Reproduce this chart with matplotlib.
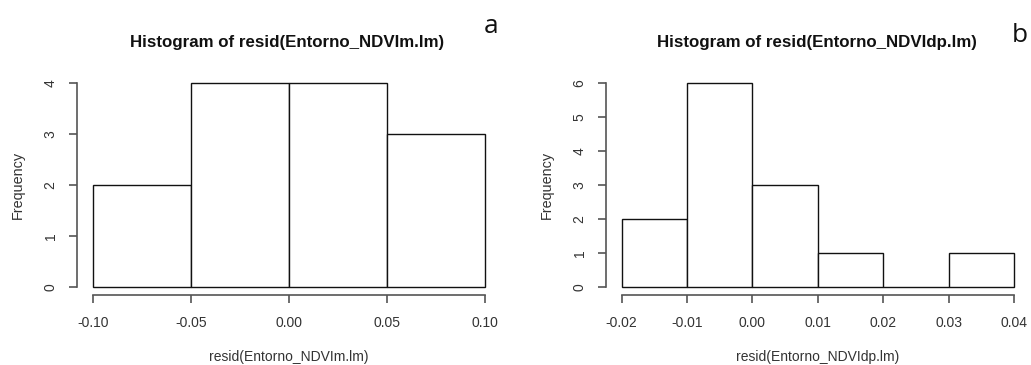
import numpy as np
import matplotlib
matplotlib.use('Agg')
import matplotlib.pyplot as plt

# histogram bins and counts
edges_a = [-0.10, -0.05, 0.00, 0.05, 0.10]
counts_a = [2, 4, 4, 3]
ticks_a = [-0.10, -0.05, 0.00, 0.05, 0.10]
yticks_a = [0, 1, 2, 3, 4]

edges_b = [-0.02, -0.01, 0.00, 0.01, 0.02, 0.03, 0.04]
counts_b = [2, 6, 3, 1, 0, 1]
ticks_b = [-0.02, -0.01, 0.00, 0.01, 0.02, 0.03, 0.04]
yticks_b = [0, 1, 2, 3, 4, 5, 6]

titles = ['Histogram of resid(Entorno_NDVIm.lm)', 'Histogram of resid(Entorno_NDVIdp.lm)']
xlabels = ['resid(Entorno_NDVIm.lm)', 'resid(Entorno_NDVIdp.lm)']
panel_tags = ['a', 'b']

plt.rcParams['font.family'] = 'Liberation Sans'
W, H = 1031, 365
TXT = '#333333'
AX = '#555555'


def px(x, y):
    return x / W, 1 - y / H


def draw_hist(fig, rect, edges, counts, xticks, yticks, title, xlabel, tag, title_xy, tag_xy, ylab_x):
    ax = fig.add_axes(rect)
    edges = np.array(edges)
    bars = ax.bar(edges[:-1], counts, width=np.diff(edges), align='edge',
                  facecolor='white', edgecolor='#111111', linewidth=1.0)
    for b in bars:
        b.set_clip_on(False)
    ax.set_xlim(edges[0], edges[-1])
    ax.set_ylim(0, max(yticks))
    for s in ['top', 'right']:
        ax.spines[s].set_visible(False)
    ax.spines['left'].set_position(('outward', 11.5))
    ax.spines['bottom'].set_position(('outward', 6.2))
    ax.spines['left'].set_bounds(yticks[0], yticks[-1])
    ax.spines['bottom'].set_bounds(xticks[0], xticks[-1])
    for s in ['left', 'bottom']:
        ax.spines[s].set_color(AX)
        ax.spines[s].set_linewidth(1.2)
    ax.set_xticks(xticks)
    ax.set_xticklabels(['%.2f' % t for t in xticks])
    ax.set_yticks(yticks)
    ax.set_yticklabels([str(t) for t in yticks], rotation=90, va='center')
    ax.tick_params(length=5.8, width=1.2, color=AX, labelcolor=TXT, labelsize=10, pad=8)
    ax.tick_params(axis='x', pad=9)
    ax.patch.set_visible(False)

    fig.text(*px(*title_xy), title, ha='center', va='center', fontsize=12.2,
             fontweight='bold', color='#111111')
    fig.text(*px(*tag_xy), tag, ha='center', va='baseline', fontsize=19,
             family='Open Sans', color='#111111')
    cx = rect[0] + rect[2] / 2
    fig.text(cx, px(0, 357)[1], xlabel, ha='center', va='center', fontsize=10, color=TXT)
    fig.text(px(ylab_x, 0)[0], rect[1] + rect[3] / 2, 'Frequency', rotation=90,
             ha='center', va='center', fontsize=10.4, color=TXT)
    return ax


fig = plt.figure(figsize=(W / 100, H / 100), dpi=100)

bottom = (H - 286.7) / H
height = 203.4 / H
draw_hist(fig, [92.7 / W, bottom, 392 / W, height], edges_a, counts_a, ticks_a, yticks_a,
          titles[0], xlabels[0], panel_tags[0], (287, 42), (491, 33), 18)
draw_hist(fig, [621.7 / W, bottom, 392.3 / W, height], edges_b, counts_b, ticks_b, yticks_b,
          titles[1], xlabels[1], panel_tags[1], (817, 42), (1020, 42), 547)

fig.savefig('out.png', dpi=100)
